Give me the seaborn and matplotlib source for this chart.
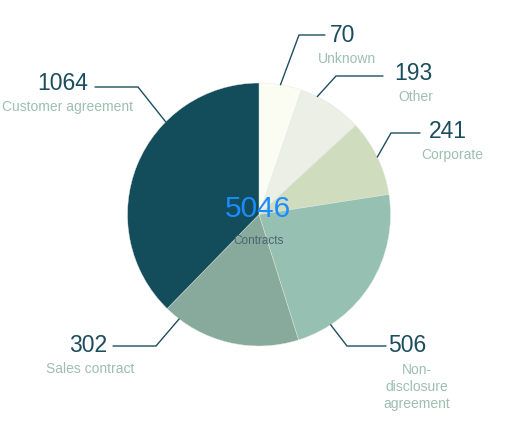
import numpy as np
import matplotlib
matplotlib.use("Agg")
import matplotlib.pyplot as plt
import seaborn as sns

# data
categories = ["Unknown", "Other", "Corporate", "Non-\ndisclosure\nagreement",
              "Sales contract", "Customer agreement"]
counts = [70, 193, 241, 506, 302, 1064]
# angular size of each slice as drawn (degrees)
slice_share = [18.8, 28.5, 33.9, 81.3, 61.8, 135.7]
total_label = "5046"
center_caption = "Contracts"

colors = ["#fbfdf2", "#ebefe6", "#cfdcbd", "#96c0b1", "#87aa9c", "#134c5b"]

sns.set_theme(style="white")
plt.rcParams["font.family"] = ["Liberation Sans", "DejaVu Sans"]

W, H = 520, 438
cx, cy, r = 259, 214.5, 131.5


def fy(y):
    # pixel row -> data y (y axis points up)
    return H - y


# label layout in pixels: leader angle (clockwise from top), elbow, end of line,
# number anchor, name anchor
layout = [
    dict(ang=9.4, elbow=(299, 35), end=(325, 35), num=(330, 36, "left"), name=(347, 59)),
    dict(ang=26.3, elbow=(336, 76), end=(383, 76), num=(394, 74, "left"), name=(416, 97)),
    dict(ang=64.1, elbow=(391, 133), end=(420, 133), num=(429, 132, "left"), name=(452, 155)),
    dict(ang=147, elbow=(347, 346), end=(386, 346), num=(388, 346, "left"), name=(417, 387)),
    dict(ang=217.4, elbow=(156, 346), end=(113, 346), num=(107, 345, "right"), name=(90, 369)),
    dict(ang=314.8, elbow=(138, 87), end=(95, 87), num=(88, 84, "right"), name=(67, 107)),
]

fig = plt.figure(figsize=(W / 100, H / 100), dpi=100)
ax = fig.add_axes([0, 0, 1, 1])

ax.pie(slice_share, colors=colors, startangle=90, counterclock=False,
       center=(cx, fy(cy)), radius=r,
       wedgeprops=dict(linewidth=0.3, edgecolor="#e6e9e2"))

line_col = "#1d4f5f"
num_col = "#1a4d5e"
name_col = "#9dbfb0"

for cat, cnt, lay in zip(categories, counts, layout):
    a = np.deg2rad(lay["ang"])
    sx, sy = cx + r * np.sin(a), cy - r * np.cos(a)
    ex, ey = lay["elbow"]
    tx, ty = lay["end"]
    ax.plot([sx, ex, tx], [fy(sy), fy(ey), fy(ty)], color=line_col, lw=1.0,
            solid_joinstyle="miter")
    nx, ny, ha = lay["num"]
    ax.text(nx, fy(ny), str(cnt), ha=ha, va="center", fontsize=16.5, color=num_col)
    mx, my = lay["name"]
    ax.text(mx, fy(my), cat, ha="center", va="center", fontsize=10,
            color=name_col, linespacing=1.25)

ax.text(258, fy(209), total_label, ha="center", va="center", fontsize=21.5,
        color="#1a8cff")
ax.text(259, fy(240.5), center_caption, ha="center", va="center", fontsize=8.5,
        color="#4c6470")

ax.set_xlim(0, W)
ax.set_ylim(0, H)
ax.set_aspect("equal")
ax.axis("off")

fig.savefig("out.png", dpi=100)
